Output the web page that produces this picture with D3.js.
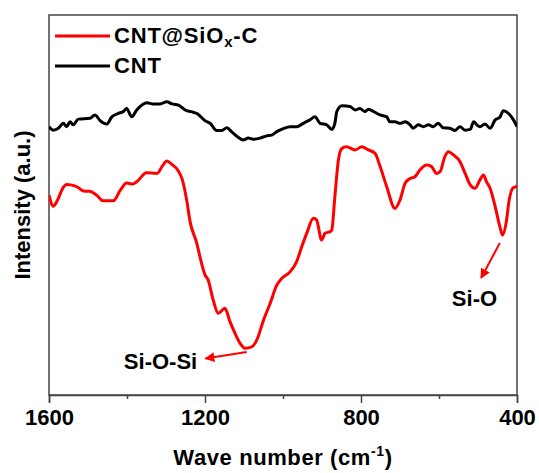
<!DOCTYPE html>
<html>
<head>
<meta charset="utf-8">
<script src="https://cdn.jsdelivr.net/npm/d3@7"></script>
<style>
  body { margin: 0; background: #fff; }
  text { font-family: "Liberation Sans", Arial, sans-serif; font-weight: bold; }
</style>
</head>
<body>
<svg></svg>
<script>
const width = 539;
const height = 473;

// wavenumbers (cm-1) and intensities (a.u.)
const redWave = [1600,1589,1579,1563,1555,1544,1525,1512,1495,1478,1461,1435,1417,1401,1386,1374,1350,1323,1309,1298,1285,1270,1258,1247,1238,1221,1213,1200,1192,1179,1166,1149,1136,1123,1110,1097,1080,1067,1050,1033,1016,1003,982,965,952,939,922,914,901,892,879,875,867,858,849,837,815,798,781,764,751,734,713,700,687,674,662,649,631,619,606,597,585,576,563,546,533,520,508,495,486,478,469,456,444,437,428,420,411,403,400];
const redVal = [52.6,49.7,51.1,54.7,55.4,55.3,54.6,53.7,53.6,52.6,51.1,51.1,53.9,55.8,55.5,56.2,58.5,58.3,60.3,61.6,60.7,59.2,56.6,51.3,45.5,39.9,36.4,31.6,30.3,25.0,21.5,22.8,19.3,16.2,13.6,12.3,12.7,14.5,19.7,24.1,28.9,30.7,32.4,35.1,39.0,42.6,46.5,46.1,40.8,42.6,43.0,43.4,52.2,61.8,64.9,65.3,64.5,65.3,64.5,63.6,60.1,54.8,49.1,51.3,55.7,57.0,57.4,59.2,60.5,60.1,58.3,58.8,62.7,64.0,63.2,61.4,58.3,55.3,54.4,56.6,57.9,56.1,54.4,49.6,44.3,42.1,45.2,51.3,54.4,54.8,55.0];

const blackWave = [1600,1589,1576,1563,1555,1546,1538,1525,1495,1482,1469,1452,1439,1422,1409,1401,1388,1375,1349,1333,1315,1298,1285,1268,1251,1230,1221,1200,1187,1170,1157,1144,1132,1115,1102,1089,1076,1059,1042,1029,1016,999,982,965,948,931,918,905,888,875,867,862,849,828,815,803,790,781,768,751,734,726,713,700,687,674,666,653,640,627,615,602,589,572,559,546,533,520,511,503,495,482,469,456,444,435,422,409,400];
const blackVal = [70.6,69.7,70.2,71.5,70.6,71.9,71.1,72.6,72.8,73.7,72.2,71.3,73.2,74.1,74.6,75.4,73.2,75.0,76.9,76.6,76.6,77.2,76.6,76.3,75.0,74.4,74.1,72.2,71.5,69.6,69.6,70.3,69.3,67.8,67.1,67.6,67.3,67.6,68.2,68.4,69.3,70.1,70.6,70.6,71.5,72.4,73.2,71.5,71.1,69.9,71.5,74.6,76.1,75.9,75.0,75.4,74.6,75.2,74.6,73.7,73.2,71.9,71.9,71.5,71.9,71.1,70.2,71.1,70.6,71.1,70.6,71.5,70.3,70.2,69.6,70.6,69.7,69.9,71.9,71.1,70.6,71.3,70.2,72.4,73.1,74.8,74.1,72.4,70.6];

const majorTicks = [1600, 1200, 800, 400];
const minorTicks = [1400, 1000, 600];

const seriesNames = ["CNT@SiOx-C", "CNT"];
const seriesColors = ["#ff0000", "#000000"];

let svg = d3.select("svg")
    .attr("width", width)
    .attr("height", height);

const mLeft = 49, mRight = 517, mTop = 15, mBottom = 395;

const x = d3.scaleLinear().domain([1600, 400]).range([mLeft, mRight]);
const y = d3.scaleLinear().domain([0, 100]).range([mBottom, mTop]);

// frame
svg.append("rect")
    .attr("x", mLeft)
    .attr("y", mTop)
    .attr("width", mRight - mLeft)
    .attr("height", mBottom - mTop)
    .attr("fill", "none")
    .attr("stroke", "#444")
    .attr("stroke-width", 1.5);

// x axis
let xAxis = svg.append("g")
    .attr("transform", `translate(0,${mBottom})`)
    .call(d3.axisBottom(x).tickValues(majorTicks).tickSize(8).tickPadding(6).tickFormat(d3.format("d")));
xAxis.select(".domain").attr("stroke", "#444").attr("stroke-width", 1.5);
xAxis.selectAll(".tick line").attr("stroke", "#444").attr("stroke-width", 1.5);
xAxis.selectAll(".tick text")
    .attr("fill", "#000")
    .style("font-size", "22px")
    .style("font-weight", "bold");

svg.append("g")
    .attr("transform", `translate(0,${mBottom})`)
    .call(d3.axisBottom(x).tickValues(minorTicks).tickSize(4).tickFormat(""))
    .call(g => g.select(".domain").remove())
    .selectAll(".tick line").attr("stroke", "#444").attr("stroke-width", 1.5);

// axis titles
let xt = svg.append("text")
    .attr("x", 283)
    .attr("y", 465)
    .attr("text-anchor", "middle")
    .style("font-size", "22px")
    .style("letter-spacing", "0.6px")
    .text("Wave number (cm");
xt.append("tspan").attr("dy", -9).style("font-size", "14px").text("-1");
xt.append("tspan").attr("dy", 9).text(")");

svg.append("text")
    .attr("transform", `translate(30,${(mTop + mBottom) / 2}) rotate(-90)`)
    .attr("text-anchor", "middle")
    .style("font-size", "22px")
    .text("Intensity (a.u.)");

// spectra
const line = d3.line()
    .x(d => x(d[0]))
    .y(d => y(d[1]))
    .curve(d3.curveMonotoneX);

svg.append("clipPath").attr("id", "clip")
    .append("rect").attr("x", mLeft).attr("y", mTop).attr("width", mRight - mLeft).attr("height", mBottom - mTop);

svg.append("path")
    .datum(blackWave.map((w, i) => [w, blackVal[i]]))
    .attr("d", line)
    .attr("fill", "none")
    .attr("stroke", seriesColors[1])
    .attr("stroke-width", 3)
    .attr("stroke-linejoin", "round")
    .attr("clip-path", "url(#clip)");

svg.append("path")
    .datum(redWave.map((w, i) => [w, redVal[i]]))
    .attr("d", line)
    .attr("fill", "none")
    .attr("stroke", seriesColors[0])
    .attr("stroke-width", 3)
    .attr("stroke-linejoin", "round")
    .attr("clip-path", "url(#clip)");

// legend
const legendY = [36, 66];
seriesNames.forEach((name, i) => {
    svg.append("line")
        .attr("x1", 55).attr("x2", 110)
        .attr("y1", legendY[i]).attr("y2", legendY[i])
        .attr("stroke", seriesColors[i])
        .attr("stroke-width", 3);
    let t = svg.append("text")
        .attr("x", 114)
        .attr("y", legendY[i] + 7)
        .style("font-size", "22px")
        .style("letter-spacing", "0.8px");
    if (name === "CNT@SiOx-C") {
        t.append("tspan").text("CNT@SiO");
        t.append("tspan").attr("dy", 4).style("font-size", "15px").text("x");
        t.append("tspan").attr("dy", -4).text("-C");
    } else {
        t.text(name);
    }
});

// annotations
const red = "#ff0000";
svg.append("defs").append("marker")
    .attr("id", "arrow")
    .attr("viewBox", "0 0 10 10")
    .attr("refX", 9).attr("refY", 5)
    .attr("markerWidth", 5).attr("markerHeight", 5)
    .attr("markerUnits", "strokeWidth")
    .attr("orient", "auto")
    .append("path")
    .attr("d", "M0,0 L10,5 L0,10 Z")
    .attr("fill", red);

const notes = [
    {label: "Si-O-Si", from: [1093, 11.3], to: [1199, 9.6], text: [1220, 6.8], anchor: "end"},
    {label: "Si-O", from: [444, 40.0], to: [492, 30.8], text: [509, 23.4], anchor: "middle"}
];
notes.forEach(n => {
    svg.append("line")
        .attr("x1", x(n.from[0])).attr("y1", y(n.from[1]))
        .attr("x2", x(n.to[0])).attr("y2", y(n.to[1]))
        .attr("stroke", red)
        .attr("stroke-width", 2)
        .attr("marker-end", "url(#arrow)");
    svg.append("text")
        .attr("x", x(n.text[0]))
        .attr("y", y(n.text[1]))
        .attr("text-anchor", n.anchor)
        .style("font-size", "22px")
        .text(n.label);
});
</script>
</body>
</html>
